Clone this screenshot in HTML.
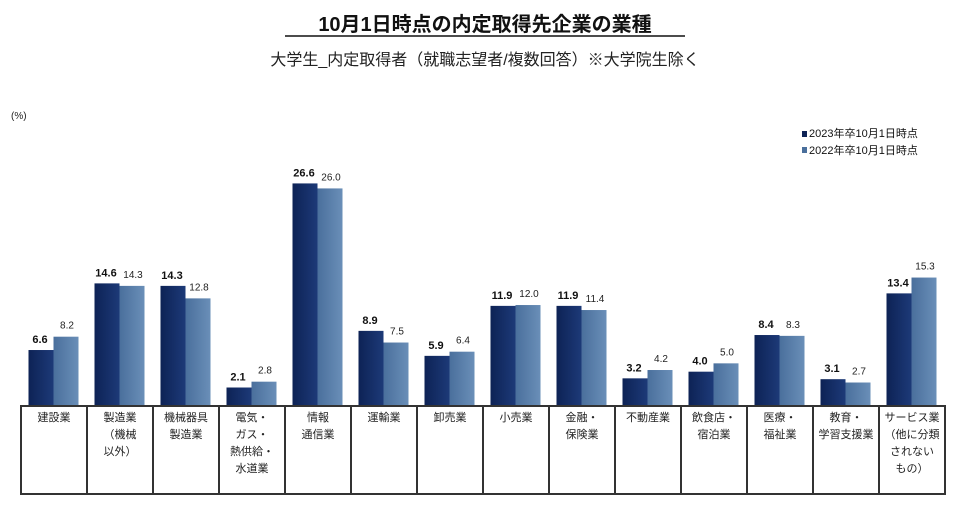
<!DOCTYPE html>
<html><head><meta charset="utf-8"><style>
body{margin:0;background:#fff;width:971px;height:514px;overflow:hidden;font-family:"Liberation Sans","Noto Sans CJK JP",sans-serif}
</style></head><body>
<svg id="s" width="971" height="514" xmlns="http://www.w3.org/2000/svg" font-family="Liberation Sans, Noto Sans CJK JP, sans-serif">
<defs>
<linearGradient id="d" x1="0" x2="1"><stop offset="0" stop-color="#0d2255"/><stop offset="1" stop-color="#1d3a78"/></linearGradient>
<linearGradient id="l" x1="0" x2="1"><stop offset="0" stop-color="#4a6f9c"/><stop offset="1" stop-color="#6a8fb8"/></linearGradient>
</defs>
<text x="485" y="31" font-size="20" font-weight="bold" text-anchor="middle" fill="#111">10月1日時点の内定取得先企業の業種</text>
<line x1="285" y1="36" x2="685" y2="36" stroke="#111" stroke-width="1.5"/>
<text x="485" y="65" font-size="16" text-anchor="middle" fill="#222">大学生_内定取得者（就職志望者/複数回答）※大学院生除く</text>
<text x="11" y="119" font-size="10" fill="#222">(%)</text>
<rect x="802" y="131" width="5" height="6" fill="#0d2255"/>
<text x="809" y="137" font-size="11" fill="#111">2023年卒10月1日時点</text>
<rect x="802" y="147" width="5" height="6" fill="#4a6f9c"/>
<text x="809" y="154" font-size="11" fill="#111">2022年卒10月1日時点</text>
<g id="g"></g>
</svg>
<script>
var v=[[6.6,8.2],[14.6,14.3],[14.3,12.8],[2.1,2.8],[26.6,26.0],[8.9,7.5],[5.9,6.4],[11.9,12.0],[11.9,11.4],[3.2,4.2],[4.0,5.0],[8.4,8.3],[3.1,2.7],[13.4,15.3]];
var lab=[["建設業"],["製造業","（機械","以外）"],["機械器具","製造業"],["電気・","ガス・","熱供給・","水道業"],["情報","通信業"],["運輸業"],["卸売業"],["小売業"],["金融・","保険業"],["不動産業"],["飲食店・","宿泊業"],["医療・","福祉業"],["教育・","学習支援業"],["サービス業","（他に分類","されない","もの）"]];
var s="",B=405,k=8.33;
for(var i=0;i<14;i++){var x=21+66*i;
var h1=v[i][0]*k,h2=v[i][1]*k;
s+='<rect x="'+(x+7.5)+'" y="'+(B-h1)+'" width="25" height="'+h1+'" fill="url(#d)"/>';
s+='<rect x="'+(x+32.5)+'" y="'+(B-h2)+'" width="25" height="'+h2+'" fill="url(#l)"/>';
s+='<text x="'+(x+19)+'" y="'+(B-h1-7)+'" font-size="11" font-weight="bold" text-anchor="middle" fill="#111">'+v[i][0].toFixed(1)+'</text>';
s+='<text x="'+(x+46)+'" y="'+(B-h2-8)+'" font-size="10" text-anchor="middle" fill="#222">'+v[i][1].toFixed(1)+'</text>';
for(var j=0;j<lab[i].length;j++)s+='<text x="'+(x+33)+'" y="'+(421+j*17)+'" font-size="11" text-anchor="middle" fill="#222">'+lab[i][j]+'</text>';
s+='<line x1="'+x+'" y1="406" x2="'+x+'" y2="494" stroke="#333" stroke-width="2"/>';}
s+='<line x1="945" y1="406" x2="945" y2="494" stroke="#333" stroke-width="2"/>';
s+='<line x1="20" y1="406" x2="946" y2="406" stroke="#333" stroke-width="2"/><line x1="20" y1="494" x2="946" y2="494" stroke="#333" stroke-width="2"/>';
document.getElementById("g").innerHTML=s;
</script>
</body></html>
